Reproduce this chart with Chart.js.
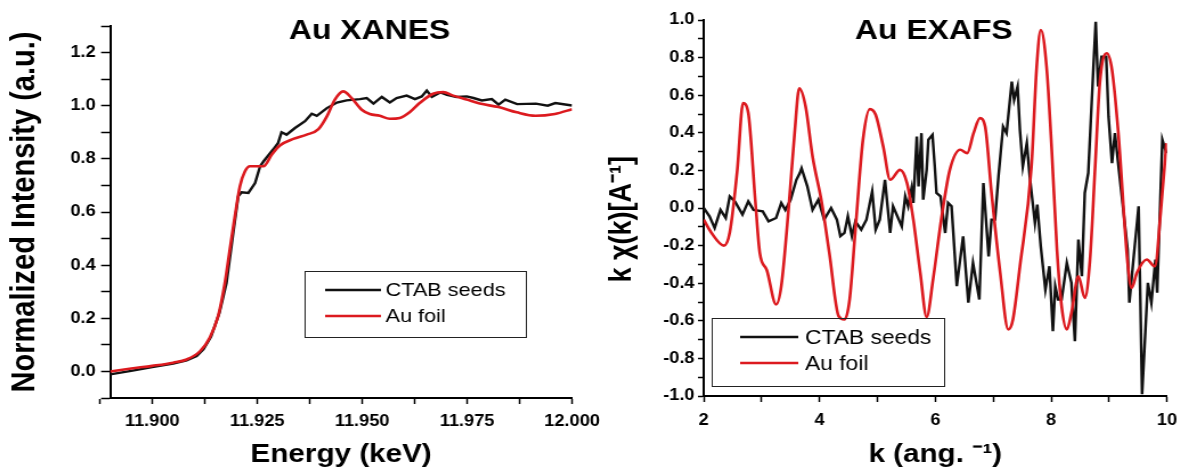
<!DOCTYPE html>
<html>
<head>
<meta charset="utf-8">
<script src="https://cdn.jsdelivr.net/npm/chart.js@4.4.0/dist/chart.umd.min.js"></script>
<style>
  html, body { margin: 0; padding: 0; background: #fff; }
  #wrap { position: relative; width: 1181px; height: 474px; overflow: hidden; }
  canvas { position: absolute; top: 0; }
</style>
</head>
<body>
<div id="wrap">
  <!-- canvases are drawn a bit narrower and widened by CSS (wide lettering) -->
  <canvas id="xanes" width="526" height="474" style="left:0;width:600px;height:474px"></canvas>
  <canvas id="exafs" width="510" height="474" style="left:600px;width:581px;height:474px"></canvas>
</div>
<script>
// ---- XANES (energy in keV, normalized intensity) ----
const foilE = [11.890, 11.895, 11.900, 11.905, 11.9082, 11.9114, 11.9137, 11.9157, 11.9173, 11.9185,
  11.9197, 11.9209, 11.9221, 11.9233, 11.9265, 11.9285, 11.9304, 11.9336, 11.9368, 11.9396,
  11.9416, 11.9435, 11.9455, 11.9475, 11.9499, 11.9518, 11.9542, 11.9566, 11.959, 11.9613,
  11.9637, 11.9669, 11.9693, 11.9717, 11.9749, 11.978, 11.9825, 11.9868, 11.9913, 11.9959, 12.000];
const foilMu = [0.000, 0.011, 0.021, 0.033, 0.045, 0.076, 0.127, 0.208, 0.333, 0.459,
  0.584, 0.697, 0.753, 0.772, 0.772, 0.816, 0.850, 0.875, 0.891, 0.912,
  0.960, 1.023, 1.054, 1.029, 0.985, 0.969, 0.962, 0.951, 0.954, 0.975,
  1.010, 1.045, 1.051, 1.038, 1.023, 1.008, 0.995, 0.975, 0.962, 0.969, 0.987];

const seedsE = [11.890, 11.895, 11.900, 11.905, 11.9082, 11.9106, 11.9122, 11.914, 11.916, 11.9177,
  11.9193, 11.9205, 11.9213, 11.9229, 11.9245, 11.9257, 11.9265, 11.9288, 11.930, 11.9308,
  11.932, 11.934, 11.9364, 11.938, 11.9392, 11.9416, 11.944, 11.9463, 11.9495, 11.9511,
  11.9527, 11.9547, 11.9566, 11.9582, 11.9606, 11.9626, 11.9642, 11.9654, 11.9666, 11.9686,
  11.9702, 11.9725, 11.9749, 11.9765, 11.9785, 11.9809, 11.9825, 11.9841, 11.9869, 11.9914,
  11.9942, 11.996, 12.000];
const seedsMu = [-0.011, 0.002, 0.016, 0.030, 0.042, 0.058, 0.083, 0.130, 0.220, 0.333,
  0.521, 0.659, 0.674, 0.672, 0.709, 0.772, 0.790, 0.835, 0.860, 0.900,
  0.891, 0.916, 0.942, 0.970, 0.962, 0.991, 1.012, 1.020, 1.025, 1.029,
  1.008, 1.033, 1.012, 1.029, 1.038, 1.025, 1.035, 1.057, 1.033, 1.050,
  1.041, 1.033, 1.035, 1.029, 1.020, 1.025, 1.004, 1.023, 1.006, 1.008,
  1.000, 1.010, 1.001];

const xanesXTicks = [11.8875, 11.900, 11.9125, 11.925, 11.9375, 11.950, 11.9625, 11.975, 11.9875, 12.000];
const xanesXLabels = [11.900, 11.925, 11.950, 11.975, 12.000];
const xanesYTicks = [-0.1, 0.0, 0.1, 0.2, 0.3, 0.4, 0.5, 0.6, 0.7, 0.8, 0.9, 1.0, 1.1, 1.2, 1.3];
const xanesYLabels = [0.0, 0.2, 0.4, 0.6, 0.8, 1.0, 1.2];

// ---- EXAFS (k in 1/angstrom, k*chi(k)) ----
const foilK = [2.00, 2.13, 2.35, 2.45, 2.58, 2.68, 2.77, 2.89, 2.97, 3.09,
  3.25, 3.34, 3.47, 3.57, 3.65, 3.76, 3.88, 4.04, 4.17, 4.33,
  4.43, 4.52, 4.62, 4.75, 4.87, 4.97, 5.10, 5.22, 5.39, 5.51,
  5.62, 5.74, 5.85, 5.96, 6.11, 6.25, 6.43, 6.55, 6.66, 6.77,
  6.86, 6.97, 7.12, 7.26, 7.34, 7.46, 7.66, 7.75, 7.82, 7.92,
  8.01, 8.10, 8.18, 8.27, 8.35, 8.47, 8.58, 8.67, 8.76, 8.84,
  8.96, 9.05, 9.16, 9.32, 9.39, 9.48, 9.65, 9.79, 9.89, 9.99];
const foilChi = [-0.062, -0.130, -0.200, -0.130, 0.200, 0.558, 0.505, 0.044, -0.240, -0.330,
  -0.513, -0.416, 0.010, 0.398, 0.637, 0.540, 0.274, 0.027, -0.240, -0.575,
  -0.593, -0.487, -0.115, 0.363, 0.526, 0.496, 0.327, 0.150, 0.203, 0.133,
  -0.062, -0.345, -0.580, -0.381, -0.045, 0.203, 0.310, 0.292, 0.398, 0.478,
  0.433, 0.080, -0.345, -0.646, -0.593, -0.310, 0.221, 0.752, 0.947, 0.752,
  0.310, -0.221, -0.522, -0.646, -0.558, -0.363, -0.478, -0.275, 0.221, 0.664,
  0.823, 0.735, 0.398, -0.292, -0.425, -0.345, -0.274, -0.310, -0.027, 0.345];

const seedsK = [2.00, 2.10, 2.19, 2.29, 2.38, 2.45, 2.54, 2.67, 2.77, 2.86,
  3.02, 3.12, 3.25, 3.34, 3.41, 3.50, 3.60, 3.66, 3.69, 3.79,
  3.88, 3.98, 4.08, 4.20, 4.30, 4.36, 4.43, 4.49, 4.56, 4.62,
  4.72, 4.81, 4.91, 4.97, 5.04, 5.13, 5.22, 5.27, 5.42, 5.48,
  5.53, 5.59, 5.62, 5.68, 5.71, 5.76, 5.79, 5.85, 5.88, 5.95,
  5.99, 6.02, 6.09, 6.17, 6.22, 6.28, 6.37, 6.48, 6.57, 6.65,
  6.76, 6.83, 6.92, 6.97, 7.03, 7.09, 7.17, 7.23, 7.32, 7.36,
  7.42, 7.46, 7.51, 7.58, 7.63, 7.72, 7.76, 7.82, 7.90, 7.97,
  8.03, 8.07, 8.12, 8.18, 8.27, 8.35, 8.41, 8.47, 8.53, 8.58,
  8.64, 8.73, 8.77, 8.81, 8.87, 8.95, 8.99, 9.05, 9.10, 9.22,
  9.32, 9.35, 9.42, 9.51, 9.57, 9.67, 9.73, 9.80, 9.83, 9.92, 9.99];
const seedsChi = [0.000, -0.044, -0.106, -0.010, -0.053, 0.062, 0.035, -0.035, 0.035, -0.010,
  -0.018, -0.071, -0.053, 0.027, -0.010, 0.044, 0.150, 0.186, 0.212, 0.115,
  -0.010, 0.044, -0.062, 0.000, -0.062, -0.150, -0.133, -0.044, -0.150, -0.071,
  -0.115, -0.062, 0.088, -0.115, -0.062, 0.150, -0.133, 0.009, -0.098, 0.062,
  0.009, 0.106, 0.027, 0.380, 0.115, 0.398, 0.044, 0.203, 0.363, 0.389,
  0.221, 0.080, 0.062, -0.133, 0.027, 0.009, -0.416, -0.151, -0.504, -0.292,
  -0.487, 0.133, -0.257, -0.062, -0.062, 0.168, 0.433, 0.398, 0.672, 0.575,
  0.646, 0.416, 0.221, 0.345, 0.168, -0.080, 0.018, -0.204, -0.434, -0.310,
  -0.655, -0.416, -0.487, -0.487, -0.292, -0.398, -0.708, -0.168, -0.363, 0.080,
  0.186, 0.752, 0.990, 0.646, 0.805, 0.805, 0.487, 0.239, 0.398, 0.062,
  -0.221, -0.504, -0.274, 0.009, -0.991, -0.398, -0.504, -0.274, -0.451, 0.363, 0.292];

const exafsXTicks = [2, 3, 4, 5, 6, 7, 8, 9, 10];
const exafsXLabels = [2, 4, 6, 8, 10];
const exafsYTicks = [-1.0, -0.9, -0.8, -0.7, -0.6, -0.5, -0.4, -0.3, -0.2, -0.1, 0.0,
  0.1, 0.2, 0.3, 0.4, 0.5, 0.6, 0.7, 0.8, 0.9, 1.0];
const exafsYLabels = [-1.0, -0.8, -0.6, -0.4, -0.2, 0.0, 0.2, 0.4, 0.6, 0.8, 1.0];

const seriesNames = ['CTAB seeds', 'Au foil'];
const BLACK = '#111111';
const RED = '#dc1a1f';

Chart.defaults.font.family = '"Liberation Sans", Arial, Helvetica, sans-serif';
Chart.defaults.color = '#000';

function pairs(xs, ys) {
  return xs.map((x, i) => ({x: x, y: ys[i]}));
}

// linear axis with every tick drawn but only some of them labelled
function axis(min, max, allTicks, labelled, digits, o) {
  const horizontal = o.horizontal;
  return {
    type: 'linear',
    position: horizontal ? 'bottom' : 'left',
    min: min,
    max: max,
    afterBuildTicks: (scale) => { scale.ticks = allTicks.map(v => ({value: v})); },
    afterFit: (scale) => {
      if (horizontal) {
        scale.height = o.size;
        scale.paddingLeft = 0;
        scale.paddingRight = 0;
      } else {
        scale.width = o.size;
        scale.paddingTop = 0;
        scale.paddingBottom = 0;
      }
    },
    border: {display: true, color: '#000', width: 2},
    grid: {display: true, drawOnChartArea: false, drawTicks: true, tickLength: o.tickLength, tickColor: '#000', tickWidth: 1.5},
    ticks: {
      autoSkip: false,
      maxRotation: 0,
      padding: o.tickPadding,
      color: '#000',
      font: {size: 16, weight: 'bold'},
      callback: (v) => labelled.some(m => Math.abs(m - v) < 1e-9) ? Number(v).toFixed(digits) : ''
    },
    title: {
      display: true,
      text: o.title,
      color: '#000',
      font: {size: o.titleSize, weight: 'bold'},
      padding: o.titlePadding
    }
  };
}

// panel title and boxed legend drawn inside the plot
const panelDecor = {
  id: 'panelDecor',
  afterDraw(chart, args, opts) {
    const ctx = chart.ctx;
    ctx.save();
    ctx.fillStyle = '#000';
    ctx.textAlign = 'center';
    ctx.textBaseline = 'middle';
    ctx.font = 'bold 28px "Liberation Sans", Arial, sans-serif';
    ctx.fillText(opts.title, opts.titleX, opts.titleY);

    const b = opts.box;
    ctx.strokeStyle = '#222';
    ctx.lineWidth = 1;
    ctx.strokeRect(b.x + 0.5, b.y + 0.5, b.w, b.h);

    ctx.textAlign = 'left';
    ctx.font = opts.fontSize + 'px "Liberation Sans", Arial, sans-serif';
    chart.data.datasets.forEach((ds, i) => {
      const y = opts.rowY[i];
      ctx.strokeStyle = ds.borderColor;
      ctx.lineWidth = 2.5;
      ctx.beginPath();
      ctx.moveTo(opts.lineX[0], y);
      ctx.lineTo(opts.lineX[1], y);
      ctx.stroke();
      ctx.fillStyle = '#000';
      ctx.fillText(ds.label, opts.textX, y + 1);
    });
    ctx.restore();
  }
};

function lineSets(blackData, redData) {
  return [
    {label: seriesNames[0], data: blackData, borderColor: BLACK, borderWidth: 2.4, pointRadius: 0, tension: 0, order: 1},
    {label: seriesNames[1], data: redData, borderColor: RED, borderWidth: 2.6, pointRadius: 0, cubicInterpolationMode: 'monotone', order: 0}
  ];
}

const common = {
  responsive: false,
  maintainAspectRatio: false,
  devicePixelRatio: 1,
  animation: false,
  events: [],
  parsing: true
};

new Chart(document.getElementById('xanes'), {
  type: 'line',
  data: {datasets: lineSets(pairs(seedsE, seedsMu), pairs(foilE, foilMu))},
  plugins: [panelDecor],
  options: Object.assign({}, common, {
    layout: {padding: {left: 0, top: 26, right: 24.5, bottom: 0}},
    scales: {
      x: axis(11.89, 12.0, xanesXTicks, xanesXLabels, 3,
        {horizontal: true, size: 76, tickLength: 6, tickPadding: 8, title: 'Energy (keV)', titleSize: 26, titlePadding: {top: 0, bottom: 3.4}}),
      y: axis(-0.1, 1.3, xanesYTicks, xanesYLabels, 1,
        {horizontal: false, size: 96.6, tickLength: 8, tickPadding: 4.7, title: 'Normalized Intensity (a.u.)', titleSize: 29, titlePadding: {top: 4.4, bottom: 0}})
    },
    plugins: {
      legend: {display: false},
      tooltip: {enabled: false},
      panelDecor: {
        title: 'Au XANES', titleX: 324, titleY: 31,
        box: {x: 267, y: 271, w: 194, h: 66},
        lineX: [285, 334], textX: 338, rowY: [290, 316], fontSize: 19
      }
    }
  })
});

new Chart(document.getElementById('exafs'), {
  type: 'line',
  data: {datasets: lineSets(pairs(seedsK, seedsChi), pairs(foilK, foilChi))},
  plugins: [panelDecor],
  options: Object.assign({}, common, {
    layout: {padding: {left: 0, top: 20, right: 12.3, bottom: 0}},
    scales: {
      x: axis(2, 10, exafsXTicks, exafsXLabels, 0,
        {horizontal: true, size: 78, tickLength: 6, tickPadding: 9, title: 'k (ang. \u207B\u00B9)', titleSize: 26, titlePadding: {top: 0, bottom: 3.4}}),
      // trailing no-break spaces push the rotated label a little lower
      y: axis(-1, 1, exafsYTicks, exafsYLabels, 1,
        {horizontal: false, size: 91, tickLength: 5, tickPadding: 3, title: 'k \u03C7(k)[A\u207B\u00B9]\u00A0\u00A0\u00A0', titleSize: 27, titlePadding: {top: 3.1, bottom: 0}})
    },
    plugins: {
      legend: {display: false},
      tooltip: {enabled: false},
      panelDecor: {
        title: 'Au EXAFS', titleX: 293, titleY: 31,
        box: {x: 98, y: 318, w: 204, h: 68},
        lineX: [123, 174], textX: 180, rowY: [337, 363], fontSize: 20
      }
    }
  })
});
</script>
</body>
</html>
